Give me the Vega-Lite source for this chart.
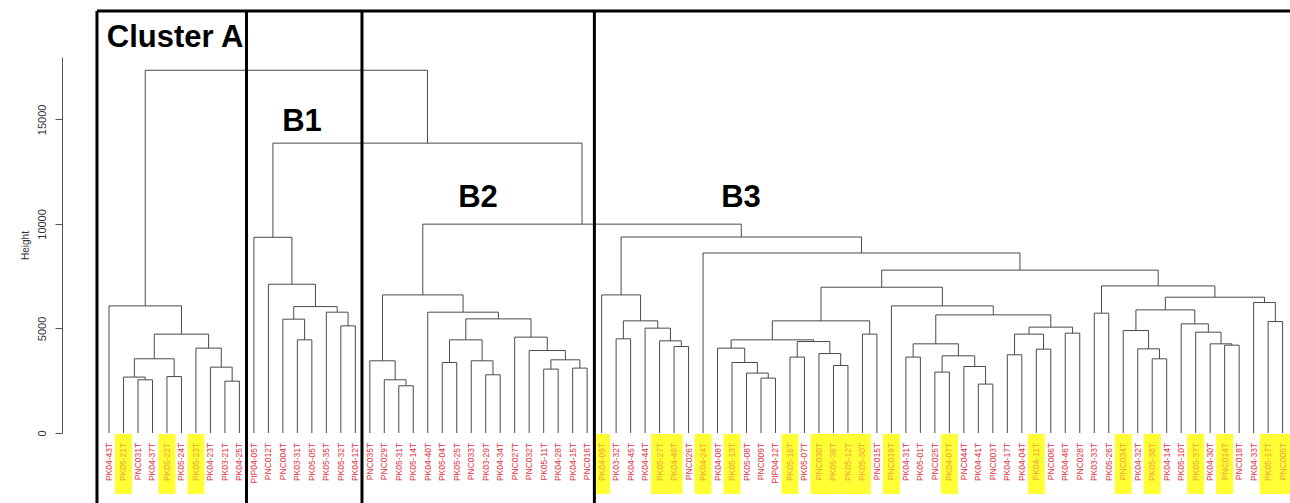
{
  "$schema": "https://vega.github.io/schema/vega-lite/v6.json",
  "width": 1228,
  "height": 376,
  "autosize": {"type": "none"},
  "padding": {"left": 62, "top": 57, "right": 0, "bottom": 70},
  "background": "white",
  "config": {
    "view": {"stroke": null},
    "font": "Liberation Sans",
    "axisY": {"grid": false, "domainColor": "#555", "tickColor": "#555", "labelColor": "#333", "labelFontSize": 11, "labelFont": "Liberation Sans", "labelAngle": 270, "labelAlign": "center", "labelBaseline": "middle", "tickSize": 7, "labelPadding": 13, "format": "d", "titleFont": "Liberation Sans", "titleFontSize": 10, "titleFontWeight": "normal", "titleColor": "#333", "titlePadding": 6}
  },
  "datasets": {
    "nodes": [
      {"x1": 2, "h1": 0, "x2": 3, "h2": 0, "H": 2545},
      {"x1": 1, "h1": 0, "x2": 2.5, "h2": 2545, "H": 2675},
      {"x1": 4, "h1": 0, "x2": 5, "h2": 0, "H": 2700},
      {"x1": 1.75, "h1": 2675, "x2": 4.5, "h2": 2700, "H": 3550},
      {"x1": 8, "h1": 0, "x2": 9, "h2": 0, "H": 2480},
      {"x1": 7, "h1": 0, "x2": 8.5, "h2": 2480, "H": 3150},
      {"x1": 6, "h1": 0, "x2": 7.75, "h2": 3150, "H": 4060},
      {"x1": 3.125, "h1": 3550, "x2": 6.875, "h2": 4060, "H": 4728},
      {"x1": 0, "h1": 0, "x2": 5.0, "h2": 4728, "H": 6080},
      {"x1": 13, "h1": 0, "x2": 14, "h2": 0, "H": 4456},
      {"x1": 12, "h1": 0, "x2": 13.5, "h2": 4456, "H": 5444},
      {"x1": 16, "h1": 0, "x2": 17, "h2": 0, "H": 5125},
      {"x1": 15, "h1": 0, "x2": 16.5, "h2": 5125, "H": 5779},
      {"x1": 12.75, "h1": 5444, "x2": 15.75, "h2": 5779, "H": 6047},
      {"x1": 11, "h1": 0, "x2": 14.25, "h2": 6047, "H": 7116},
      {"x1": 10, "h1": 0, "x2": 12.625, "h2": 7116, "H": 9361},
      {"x1": 20, "h1": 0, "x2": 21, "h2": 0, "H": 2259},
      {"x1": 19, "h1": 0, "x2": 20.5, "h2": 2259, "H": 2546},
      {"x1": 18, "h1": 0, "x2": 19.75, "h2": 2546, "H": 3453},
      {"x1": 23, "h1": 0, "x2": 24, "h2": 0, "H": 3372},
      {"x1": 26, "h1": 0, "x2": 27, "h2": 0, "H": 2784},
      {"x1": 25, "h1": 0, "x2": 26.5, "h2": 2784, "H": 3453},
      {"x1": 23.5, "h1": 3372, "x2": 25.75, "h2": 3453, "H": 4456},
      {"x1": 30, "h1": 0, "x2": 31, "h2": 0, "H": 3057},
      {"x1": 32, "h1": 0, "x2": 33, "h2": 0, "H": 3104},
      {"x1": 30.5, "h1": 3057, "x2": 32.5, "h2": 3104, "H": 3501},
      {"x1": 29, "h1": 0, "x2": 31.5, "h2": 3501, "H": 3945},
      {"x1": 28, "h1": 0, "x2": 30.25, "h2": 3945, "H": 4585},
      {"x1": 24.625, "h1": 4456, "x2": 29.125, "h2": 4585, "H": 5459},
      {"x1": 22, "h1": 0, "x2": 26.875, "h2": 5459, "H": 5779},
      {"x1": 18.875, "h1": 3453, "x2": 24.4375, "h2": 5779, "H": 6605},
      {"x1": 39, "h1": 0, "x2": 40, "h2": 0, "H": 4136},
      {"x1": 38, "h1": 0, "x2": 39.5, "h2": 4136, "H": 4408},
      {"x1": 37, "h1": 0, "x2": 38.75, "h2": 4408, "H": 5015},
      {"x1": 35, "h1": 0, "x2": 36, "h2": 0, "H": 4504},
      {"x1": 35.5, "h1": 4504, "x2": 37.875, "h2": 5015, "H": 5364},
      {"x1": 34, "h1": 0, "x2": 36.6875, "h2": 5364, "H": 6605},
      {"x1": 45, "h1": 0, "x2": 46, "h2": 0, "H": 2627},
      {"x1": 44, "h1": 0, "x2": 45.5, "h2": 2627, "H": 2866},
      {"x1": 43, "h1": 0, "x2": 44.75, "h2": 2866, "H": 3372},
      {"x1": 42, "h1": 0, "x2": 43.875, "h2": 3372, "H": 4060},
      {"x1": 47, "h1": 0, "x2": 48, "h2": 0, "H": 3630},
      {"x1": 50, "h1": 0, "x2": 51, "h2": 0, "H": 3229},
      {"x1": 49, "h1": 0, "x2": 50.5, "h2": 3229, "H": 3800},
      {"x1": 47.5, "h1": 3630, "x2": 49.75, "h2": 3800, "H": 4375},
      {"x1": 42.9375, "h1": 4060, "x2": 48.625, "h2": 4375, "H": 4456},
      {"x1": 52, "h1": 0, "x2": 53, "h2": 0, "H": 4728},
      {"x1": 45.78125, "h1": 4456, "x2": 52.5, "h2": 4728, "H": 5364},
      {"x1": 55, "h1": 0, "x2": 56, "h2": 0, "H": 3630},
      {"x1": 57, "h1": 0, "x2": 58, "h2": 0, "H": 2913},
      {"x1": 60, "h1": 0, "x2": 61, "h2": 0, "H": 2340},
      {"x1": 59, "h1": 0, "x2": 60.5, "h2": 2340, "H": 3181},
      {"x1": 57.5, "h1": 2913, "x2": 59.75, "h2": 3181, "H": 3692},
      {"x1": 55.5, "h1": 3630, "x2": 58.625, "h2": 3692, "H": 4265},
      {"x1": 62, "h1": 0, "x2": 63, "h2": 0, "H": 3740},
      {"x1": 64, "h1": 0, "x2": 65, "h2": 0, "H": 4011},
      {"x1": 62.5, "h1": 3740, "x2": 64.5, "h2": 4011, "H": 4728},
      {"x1": 66, "h1": 0, "x2": 67, "h2": 0, "H": 4776},
      {"x1": 63.5, "h1": 4728, "x2": 66.5, "h2": 4776, "H": 5064},
      {"x1": 57.0625, "h1": 4265, "x2": 65, "h2": 5064, "H": 5650},
      {"x1": 54, "h1": 0, "x2": 61.03125, "h2": 5650, "H": 6080},
      {"x1": 49.140625, "h1": 5364, "x2": 57.515625, "h2": 6080, "H": 6973},
      {"x1": 68, "h1": 0, "x2": 69, "h2": 0, "H": 5731},
      {"x1": 72, "h1": 0, "x2": 73, "h2": 0, "H": 3549},
      {"x1": 71, "h1": 0, "x2": 72.5, "h2": 3549, "H": 4026},
      {"x1": 70, "h1": 0, "x2": 71.75, "h2": 4026, "H": 4900},
      {"x1": 77, "h1": 0, "x2": 78, "h2": 0, "H": 4200},
      {"x1": 76, "h1": 0, "x2": 77.5, "h2": 4200, "H": 4265},
      {"x1": 75, "h1": 0, "x2": 76.75, "h2": 4265, "H": 4823},
      {"x1": 74, "h1": 0, "x2": 75.875, "h2": 4823, "H": 5220},
      {"x1": 70.875, "h1": 4900, "x2": 74.9375, "h2": 5220, "H": 5889},
      {"x1": 80, "h1": 0, "x2": 81, "h2": 0, "H": 5331},
      {"x1": 79, "h1": 0, "x2": 80.5, "h2": 5331, "H": 6240},
      {"x1": 72.90625, "h1": 5889, "x2": 79.75, "h2": 6240, "H": 6495},
      {"x1": 68.5, "h1": 5731, "x2": 76.328125, "h2": 6495, "H": 7035},
      {"x1": 53.328125, "h1": 6973, "x2": 72.4140625, "h2": 7035, "H": 7790},
      {"x1": 41, "h1": 0, "x2": 62.87109375, "h2": 7790, "H": 8611},
      {"x1": 35.34375, "h1": 6605, "x2": 51.935546875, "h2": 8611, "H": 9375},
      {"x1": 21.65625, "h1": 6605, "x2": 43.6396484375, "h2": 9375, "H": 9990},
      {"x1": 11.3125, "h1": 9361, "x2": 32.64794921875, "h2": 9990, "H": 13865},
      {"x1": 2.5, "h1": 6080, "x2": 21.980224609375, "h2": 13865, "H": 17351}
    ],
    "leaves": [
      {"i": 0, "label": "PK04-43T", "hl": false},
      {"i": 1, "label": "PK05-21T", "hl": true},
      {"i": 2, "label": "PNC031T", "hl": false},
      {"i": 3, "label": "PK04-37T", "hl": false},
      {"i": 4, "label": "PK05-22T", "hl": true},
      {"i": 5, "label": "PK05-24T", "hl": false},
      {"i": 6, "label": "PK05-23T", "hl": true},
      {"i": 7, "label": "PK04-23T", "hl": false},
      {"i": 8, "label": "PK03-21T", "hl": false},
      {"i": 9, "label": "PK04-25T", "hl": false},
      {"i": 10, "label": "PIP04-05T", "hl": false},
      {"i": 11, "label": "PNC012T", "hl": false},
      {"i": 12, "label": "PNC004T", "hl": false},
      {"i": 13, "label": "PK03-31T", "hl": false},
      {"i": 14, "label": "PK05-05T", "hl": false},
      {"i": 15, "label": "PK05-35T", "hl": false},
      {"i": 16, "label": "PK05-32T", "hl": false},
      {"i": 17, "label": "PK04-12T", "hl": false},
      {"i": 18, "label": "PNC035T", "hl": false},
      {"i": 19, "label": "PNC029T", "hl": false},
      {"i": 20, "label": "PK05-31T", "hl": false},
      {"i": 21, "label": "PK05-14T", "hl": false},
      {"i": 22, "label": "PK04-40T", "hl": false},
      {"i": 23, "label": "PK05-04T", "hl": false},
      {"i": 24, "label": "PK05-25T", "hl": false},
      {"i": 25, "label": "PNC033T", "hl": false},
      {"i": 26, "label": "PK03-29T", "hl": false},
      {"i": 27, "label": "PK04-34T", "hl": false},
      {"i": 28, "label": "PNC027T", "hl": false},
      {"i": 29, "label": "PNC032T", "hl": false},
      {"i": 30, "label": "PK05-11T", "hl": false},
      {"i": 31, "label": "PK04-28T", "hl": false},
      {"i": 32, "label": "PK04-15T", "hl": false},
      {"i": 33, "label": "PNC016T", "hl": false},
      {"i": 34, "label": "PK04-09T", "hl": true},
      {"i": 35, "label": "PK03-32T", "hl": false},
      {"i": 36, "label": "PK04-45T", "hl": false},
      {"i": 37, "label": "PK04-44T", "hl": false},
      {"i": 38, "label": "PK05-27T", "hl": true},
      {"i": 39, "label": "PK04-48T", "hl": true},
      {"i": 40, "label": "PNC026T", "hl": false},
      {"i": 41, "label": "PK04-24T", "hl": true},
      {"i": 42, "label": "PK04-08T", "hl": false},
      {"i": 43, "label": "PK05-13T", "hl": true},
      {"i": 44, "label": "PK05-08T", "hl": false},
      {"i": 45, "label": "PNC009T", "hl": false},
      {"i": 46, "label": "PIP04-12T", "hl": false},
      {"i": 47, "label": "PK05-16T", "hl": true},
      {"i": 48, "label": "PK05-07T", "hl": false},
      {"i": 49, "label": "PNC030T", "hl": true},
      {"i": 50, "label": "PK05-36T", "hl": true},
      {"i": 51, "label": "PK05-12T", "hl": true},
      {"i": 52, "label": "PK05-30T", "hl": true},
      {"i": 53, "label": "PNC015T", "hl": false},
      {"i": 54, "label": "PNC019T", "hl": true},
      {"i": 55, "label": "PK04-31T", "hl": false},
      {"i": 56, "label": "PK05-01T", "hl": false},
      {"i": 57, "label": "PNC025T", "hl": false},
      {"i": 58, "label": "PK04-07T", "hl": true},
      {"i": 59, "label": "PNC044T", "hl": false},
      {"i": 60, "label": "PK04-41T", "hl": false},
      {"i": 61, "label": "PNC003T", "hl": false},
      {"i": 62, "label": "PK04-17T", "hl": false},
      {"i": 63, "label": "PK04-04T", "hl": false},
      {"i": 64, "label": "PK04-11T", "hl": true},
      {"i": 65, "label": "PNC006T", "hl": false},
      {"i": 66, "label": "PK04-46T", "hl": false},
      {"i": 67, "label": "PNC028T", "hl": false},
      {"i": 68, "label": "PK03-33T", "hl": false},
      {"i": 69, "label": "PK05-26T", "hl": false},
      {"i": 70, "label": "PNC034T", "hl": true},
      {"i": 71, "label": "PK04-32T", "hl": false},
      {"i": 72, "label": "PK05-38T", "hl": true},
      {"i": 73, "label": "PK04-14T", "hl": false},
      {"i": 74, "label": "PK05-10T", "hl": false},
      {"i": 75, "label": "PK05-37T", "hl": true},
      {"i": 76, "label": "PK04-30T", "hl": false},
      {"i": 77, "label": "PNC014T", "hl": true},
      {"i": 78, "label": "PNC018T", "hl": false},
      {"i": 79, "label": "PK04-33T", "hl": false},
      {"i": 80, "label": "PK05-17T", "hl": true},
      {"i": 81, "label": "PNC005T", "hl": true}
    ],
    "boxes": [
      {"x": -0.83, "x2": -0.83, "y": -3700, "y2": 20186},
      {"x": 9.49, "x2": 9.49, "y": -3700, "y2": 20186},
      {"x": 17.46, "x2": 17.46, "y": -3700, "y2": 20186},
      {"x": 33.5, "x2": 33.5, "y": -3700, "y2": 20186},
      {"x": -0.83, "x2": 84, "y": 20186, "y2": 20186}
    ],
    "clusters": [
      {"name": "Cluster A", "x": 4.56, "h": 18894},
      {"name": "B1", "x": 13.32, "h": 14876},
      {"name": "B2", "x": 25.47, "h": 11241},
      {"name": "B3", "x": 43.62, "h": 11241}
    ]
  },
  "layer": [
    {
      "data": {"name": "leaves"},
      "transform": [{"filter": "datum.hl"}],
      "mark": {"type": "bar", "width": 17, "color": "#ffff33"},
      "encoding": {
        "x": {"field": "i", "type": "quantitative", "scale": {"domain": [-3.244, 81.51], "nice": false, "zero": false, "padding": 0}, "axis": null},
        "y": {"datum": -48, "type": "quantitative", "scale": {"domain": [0, 17985], "nice": false, "zero": false, "padding": 0}, "title": "Height", "axis": {"values": [0, 5000, 10000, 15000]}},
        "y2": {"datum": -2918}
      }
    },
    {
      "data": {"name": "leaves"},
      "mark": {"type": "text", "angle": 270, "align": "right", "baseline": "middle", "fontSize": 8.5, "font": "Liberation Sans"},
      "encoding": {
        "x": {"field": "i", "type": "quantitative", "scale": {"domain": [-3.244, 81.51], "nice": false, "zero": false, "padding": 0}, "axis": null},
        "y": {"datum": -470, "type": "quantitative", "scale": {"domain": [0, 17985], "nice": false, "zero": false, "padding": 0}, "title": "Height", "axis": {"values": [0, 5000, 10000, 15000]}},
        "text": {"field": "label"},
        "color": {"condition": {"test": "datum.hl", "value": "#f2a040"}, "value": "#e23040"}
      }
    },
    {
      "data": {"name": "nodes"},
      "mark": {"type": "rule", "color": "#4a4a4a", "strokeWidth": 1},
      "encoding": {
        "x": {"field": "x1", "type": "quantitative", "scale": {"domain": [-3.244, 81.51], "nice": false, "zero": false, "padding": 0}, "axis": null},
        "y": {"field": "h1", "type": "quantitative", "scale": {"domain": [0, 17985], "nice": false, "zero": false, "padding": 0}, "title": "Height", "axis": {"values": [0, 5000, 10000, 15000]}},
        "y2": {"field": "H"}
      }
    },
    {
      "data": {"name": "nodes"},
      "mark": {"type": "rule", "color": "#4a4a4a", "strokeWidth": 1},
      "encoding": {
        "x": {"field": "x2", "type": "quantitative", "scale": {"domain": [-3.244, 81.51], "nice": false, "zero": false, "padding": 0}, "axis": null},
        "y": {"field": "h2", "type": "quantitative", "scale": {"domain": [0, 17985], "nice": false, "zero": false, "padding": 0}, "title": "Height", "axis": {"values": [0, 5000, 10000, 15000]}},
        "y2": {"field": "H"}
      }
    },
    {
      "data": {"name": "nodes"},
      "mark": {"type": "rule", "color": "#4a4a4a", "strokeWidth": 1},
      "encoding": {
        "x": {"field": "x1", "type": "quantitative", "scale": {"domain": [-3.244, 81.51], "nice": false, "zero": false, "padding": 0}, "axis": null},
        "x2": {"field": "x2"},
        "y": {"field": "H", "type": "quantitative", "scale": {"domain": [0, 17985], "nice": false, "zero": false, "padding": 0}, "title": "Height", "axis": {"values": [0, 5000, 10000, 15000]}}
      }
    },
    {
      "data": {"name": "boxes"},
      "mark": {"type": "rule", "color": "black", "strokeWidth": 3},
      "encoding": {
        "x": {"field": "x", "type": "quantitative", "scale": {"domain": [-3.244, 81.51], "nice": false, "zero": false, "padding": 0}, "axis": null},
        "x2": {"field": "x2"},
        "y": {"field": "y", "type": "quantitative", "scale": {"domain": [0, 17985], "nice": false, "zero": false, "padding": 0}, "title": "Height", "axis": {"values": [0, 5000, 10000, 15000]}},
        "y2": {"field": "y2"}
      }
    },
    {
      "data": {"name": "clusters"},
      "mark": {"type": "text", "fontSize": 31, "fontWeight": "bold", "font": "Liberation Sans", "align": "center", "baseline": "middle", "color": "black"},
      "encoding": {
        "x": {"field": "x", "type": "quantitative", "scale": {"domain": [-3.244, 81.51], "nice": false, "zero": false, "padding": 0}, "axis": null},
        "y": {"field": "h", "type": "quantitative", "scale": {"domain": [0, 17985], "nice": false, "zero": false, "padding": 0}, "title": "Height", "axis": {"values": [0, 5000, 10000, 15000]}},
        "text": {"field": "name"}
      }
    }
  ]
}
